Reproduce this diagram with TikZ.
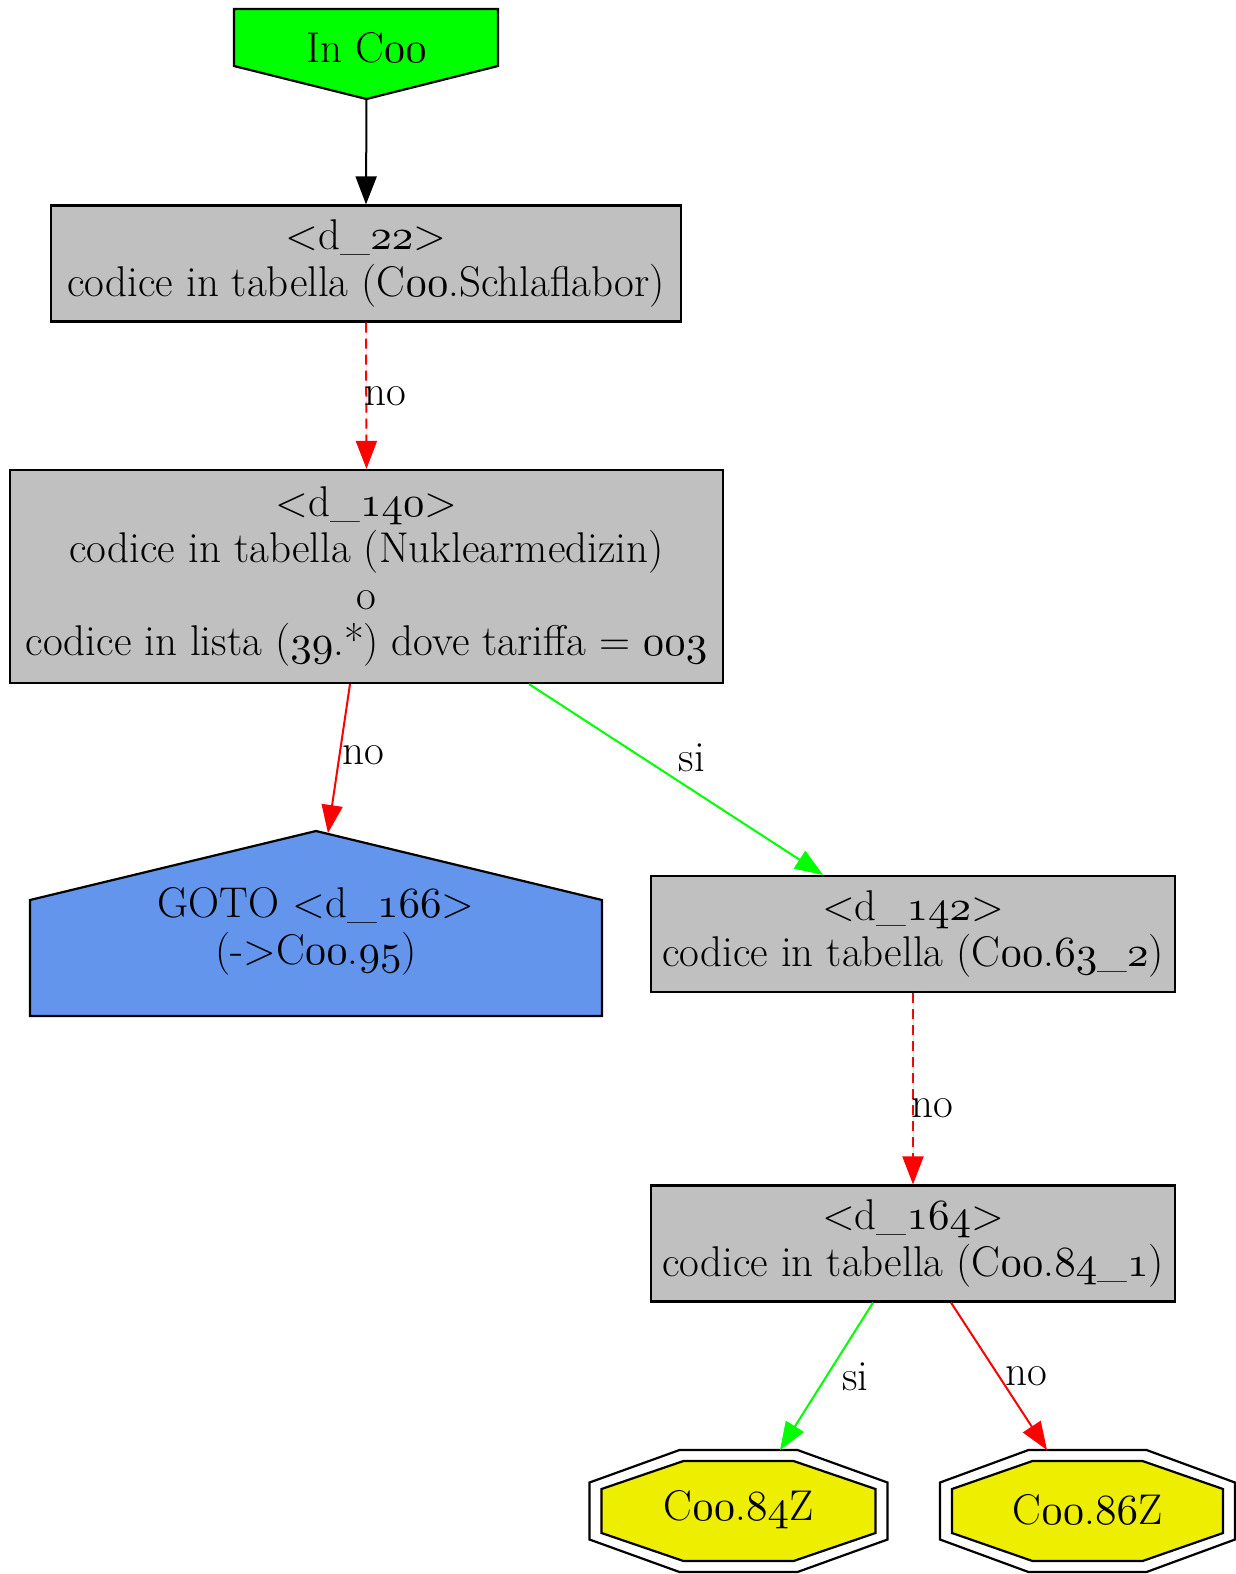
\documentclass[tikz,border=0pt]{standalone}
\usetikzlibrary{arrows.meta}
\DeclareFontFamily{OML}{oscmm}{\skewchar\font127 }
\DeclareFontShape{OML}{oscmm}{m}{it}{<->cmmi10}{}
\newcommand\osn[1]{{\fontencoding{OML}\fontfamily{oscmm}\fontseries{m}\fontshape{it}\selectfont #1}}
\definecolor{startgreen}{HTML}{00FF00}
\definecolor{boxgray}{HTML}{C0C0C0}
\definecolor{gotoblue}{HTML}{6495ED}
\definecolor{endyellow}{HTML}{EEEE00}
\definecolor{edgered}{HTML}{FF0000}
\definecolor{edgegreen}{HTML}{00FF00}
\newcommand\octpath[6]{(#1-#5,#2-#4) -- (#1+#5,#2-#4) -- (#1+#3,#2-#6) -- (#1+#3,#2+#6) -- (#1+#5,#2+#4) -- (#1-#5,#2+#4) -- (#1-#3,#2+#6) -- (#1-#3,#2-#6) -- cycle}
\begin{document}
\begin{tikzpicture}[x=1pt,y=-1pt,
  txt/.style={font=\fontsize{43}{46.5}\selectfont, align=center, inner sep=0pt},
  graybox/.style={draw=black, line width=2.2pt, fill=boxgray, txt, minimum width=#1, minimum height=116pt},
  shapeline/.style={draw=black, line width=2.2pt},
  edge/.style={line width=2pt, -{Triangle[length=28pt,width=21pt]}},
  rededge/.style={edge, draw=edgered, fill=edgered},
  greenedge/.style={edge, draw=edgegreen, fill=edgegreen},
  dashedge/.style={rededge, dash pattern=on 10pt off 6pt},
  elabel/.style={txt, fill=none}
]
\useasboundingbox (0,0) rectangle (1236,1574);
% start node (inverted house)
\path[shapeline, fill=startgreen] (234,9) -- (498,9) -- (498,66) -- (366.5,99) -- (234,66) -- cycle;
\node[txt] (start) at (366.5,48) {In C\osn{00}};
\coordinate (starttip) at (366.5,99);
% d_22
\node[graybox=630pt] (d22) at (366,263.5) {<d\_\osn{22}>\\codice in tabella (C\osn{00}.Schlaflabor)};
% d_140
\node[graybox=713pt, minimum height=213pt] (d140) at (366.5,576.5) {<d\_\osn{140}>\\codice in tabella (Nuklearmedizin)\\o\\codice in lista (\osn{39}.*) dove tariffa = \osn{003}};
% GOTO house
\path[shapeline, fill=gotoblue] (30,1016) -- (602,1016) -- (602,900) -- (316,831) -- (30,900) -- cycle;
\coordinate (gotoapex) at (316,831);
\node[txt] (goto) at (316,931.5) {GOTO <d\_\osn{166}>\\(->C\osn{00}.\osn{95})};
% d_142
\node[graybox=524pt] (d142) at (913,934) {<d\_\osn{142}>\\codice in tabella (C\osn{00}.\osn{63}\_\osn{2})};
% d_164
\node[graybox=524pt] (d164) at (913,1243.5) {<d\_\osn{164}>\\codice in tabella (C\osn{00}.\osn{84}\_\osn{1})};
% end octagons
\path[shapeline, fill=white] \octpath{738.5}{1511}{149}{61}{59}{28.5};
\path[shapeline, fill=endyellow] \octpath{738.5}{1511}{137}{50}{55}{22};
\node[txt] (o84) at (738.5,1510) {C\osn{00}.\osn{84}Z};
\coordinate (o84top) at (738.5,1450);
\path[shapeline, fill=white] \octpath{1087.5}{1511}{147.5}{61}{59}{28.5};
\path[shapeline, fill=endyellow] \octpath{1087.5}{1511}{135.5}{50}{55}{22};
\node[txt] (o86) at (1087.5,1510) {C\osn{00}.\osn{86}Z};
\coordinate (o86top) at (1087.5,1450);
% edges
\draw[edge, draw=black, fill=black] (starttip) -- (d22.north);
\draw[dashedge] (d22.south) -- (d140.north) node[elabel, pos=0.5, xshift=19pt] {no};
\draw[rededge] ([xshift=-16.5pt]d140.south) -- ([xshift=12pt,yshift=-2pt]gotoapex) node[elabel, pos=0.48, xshift=24pt] {no};
\draw[greenedge] ([xshift=162.5pt]d140.south) -- ([xshift=-90pt]d142.north) node[elabel, pos=0.5, xshift=16pt, yshift=22pt] {si};
\draw[dashedge] (d142.south) -- (d164.north) node[elabel, pos=0.6, xshift=19pt] {no};
\draw[greenedge] ([xshift=-40pt]d164.south) -- ([xshift=41.5pt]o84top) node[elabel, pos=0.5, xshift=29pt] {si};
\draw[rededge] ([xshift=38pt]d164.south) -- ([xshift=-40.5pt]o86top) node[elabel, pos=0.5, xshift=27pt] {no};
\end{tikzpicture}
\end{document}
